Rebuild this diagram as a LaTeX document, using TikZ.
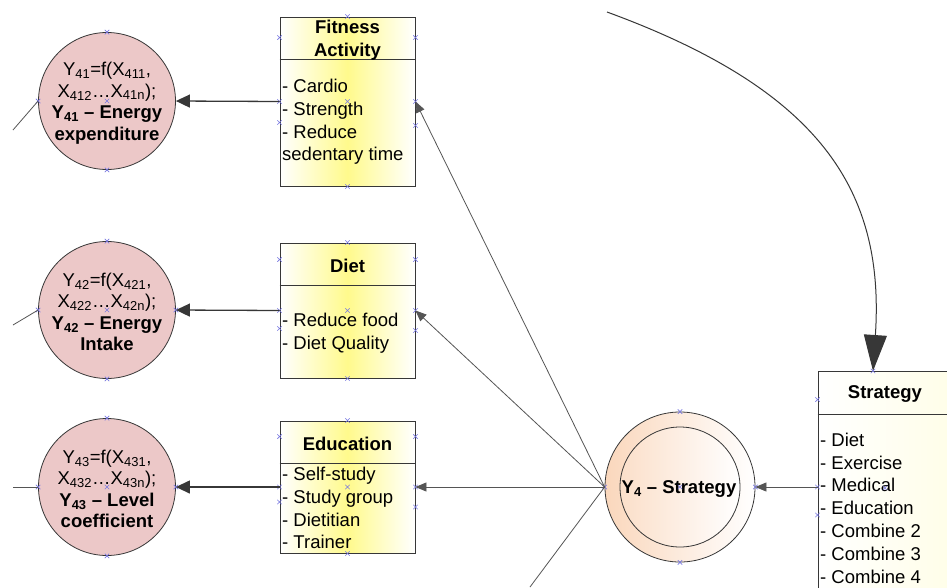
\documentclass[tikz,border=0pt]{standalone}
\usepackage{fontspec}
\setmainfont{Liberation Sans}
\usetikzlibrary{arrows.meta,calc}

\definecolor{rosefill}{RGB}{236,200,200}
\definecolor{boxyellow}{RGB}{255,250,140}
\definecolor{peach}{RGB}{250,215,188}
\definecolor{edgegray}{RGB}{55,55,55}
\definecolor{linegray}{RGB}{85,85,85}
\definecolor{cpblue}{RGB}{120,120,225}

\tikzset{
  txt/.style={font=\fontsize{18.5}{22.8}\selectfont, text=black, inner sep=0pt},
  htxt/.style={font=\fontsize{18.5}{22.8}\selectfont\bfseries, text=black, inner sep=0pt, align=center},
  ctxt/.style={font=\fontsize{18.5}{21.5}\selectfont, text=black, inner sep=0pt, align=center},
  yvar/.style={circle, draw=edgegray, line width=0.8pt, fill=rosefill,
               minimum size=137pt, inner sep=0pt},
  entbox/.style={rectangle, draw=edgegray, line width=0.9pt, inner sep=0pt,
                 left color=white, right color=white, middle color=boxyellow},
  stratbox/.style={rectangle, draw=edgegray, line width=0.9pt, inner sep=0pt,
                 left color=white, right color=boxyellow!20},
  ring/.style={circle, draw=edgegray, line width=0.8pt, inner sep=0pt,
               left color=peach, right color=white},
  inring/.style={circle, draw=edgegray, line width=0.8pt, inner sep=0pt,
               left color=peach!80, right color=white},
  divider/.style={draw=edgegray, line width=0.9pt},
  mainarrow/.style={draw=edgegray, line width=1.3pt,
                    -{Triangle[length=14pt,width=13pt]}},
  thinarrow/.style={draw=linegray, line width=0.8pt,
                    -{Triangle[length=11pt,width=9pt]}},
  thinline/.style={draw=linegray, line width=0.8pt},
  bigarrow/.style={draw=edgegray, line width=1pt,
                   -{Triangle[length=36pt,width=23pt]}},
  cpt/.pic={\draw[cpblue, line width=0.6pt] (-2.2,-2.2)--(2.2,2.2) (-2.2,2.2)--(2.2,-2.2);}
}

\begin{document}
\begin{tikzpicture}[x=1pt,y=-1pt]
  \path[use as bounding box, fill=white] (0,0) rectangle (947,587);
  \clip (0,0) rectangle (947,587);

  % ---- outcome circles on the left
  \node[yvar] (y41) at (107,101) {};
  \node[ctxt] (t41) at (107,103)
    {Y\textsubscript{41}=f(X\textsubscript{411},\\
     X\textsubscript{412}\dots X\textsubscript{41n});\\
     \textbf{Y\textsubscript{41} -- Energy}\\
     \textbf{expenditure}};

  \node[yvar] (y42) at (107,310) {};
  \node[ctxt] (t42) at (107,312)
    {Y\textsubscript{42}=f(X\textsubscript{421},\\
     X\textsubscript{422}\dots X\textsubscript{42n});\\
     \textbf{Y\textsubscript{42} -- Energy}\\
     \textbf{Intake}};

  \node[yvar] (y43) at (107,487) {};
  \node[ctxt] (t43) at (107,489)
    {Y\textsubscript{43}=f(X\textsubscript{431},\\
     X\textsubscript{432}\dots X\textsubscript{43n});\\
     \textbf{Y\textsubscript{43} -- Level}\\
     \textbf{coefficient}};

  % ---- activity boxes
  \node[entbox, minimum width=135pt, minimum height=169pt] (fit) at (347.5,101.5) {};
  \draw[divider] ($(fit.north west)+(0,43)$) -- ($(fit.north east)+(0,43)$);
  \node[htxt] (fith) at (347.5,40) {Fitness\\Activity};
  \node[txt, align=left, anchor=west] (fitc) at (282,122)
    {- Cardio\\- Strength\\- Reduce\\sedentary time};

  \node[entbox, minimum width=135pt, minimum height=135pt] (diet) at (347.5,310.5) {};
  \draw[divider] ($(diet.north west)+(0,43)$) -- ($(diet.north east)+(0,43)$);
  \node[htxt] (dieth) at (347.5,265.5) {Diet};
  \node[txt, align=left, anchor=west] (dietc) at (282,333)
    {- Reduce food\\- Diet Quality};

  \node[entbox, minimum width=135pt, minimum height=132pt] (edu) at (347.5,487) {};
  \draw[divider] ($(edu.north west)+(0,43)$) -- ($(edu.north east)+(0,43)$);
  \node[htxt] (eduh) at (347.5,443.5) {Education};
  \node[txt, align=left, anchor=west] (educ) at (282,508)
    {- Self-study\\- Study group\\- Dietitian\\- Trainer};

  % ---- strategy hub
  \node[ring, minimum size=150pt] (y4) at (680,487) {};
  \node[inring, minimum size=120pt] (y4in) at (680,487) {};
  \node[htxt] (y4t) at (679,489) {Y\textsubscript{4} -- Strategy};

  % ---- strategy list
  \node[stratbox, minimum width=135pt, minimum height=232pt] (strat) at (885.5,487) {};
  \draw[divider] ($(strat.north west)+(0,44)$) -- ($(strat.north east)+(0,44)$);
  \node[htxt] (strath) at (885,394) {Strategy};
  \node[txt, align=left, anchor=west] (stratc) at (820,508)
    {- Diet\\- Exercise\\- Medical\\- Education\\- Combine 2\\- Combine 3\\- Combine 4};

  % ---- free ends
  \coordinate (l41) at (13,130);
  \coordinate (l42) at (13,325);
  \coordinate (l43) at (13,487);
  \coordinate (ybot) at (530,587);
  \coordinate (src) at (607,12);
  \coordinate (stratin) at (873,371);

  % ---- connection points
  \foreach \n in {y41,y42,y43,y4,fit,diet,edu} {
    \pic at (\n.north) {cpt};
    \pic at (\n.south) {cpt};
    \pic at (\n.west) {cpt};
    \pic at (\n.center) {cpt};
  }
  \foreach \n in {y42,y43,y4,fit,diet,edu} {
    \pic at (\n.east) {cpt};
  }
  \pic at ($(fit.north west)+(0,21)$) {cpt};
  \pic at ($(fit.north east)+(0,21)$) {cpt};
  \pic at ($(fit.west)+(0,21)$) {cpt};
  \pic at ($(fit.east)+(0,24)$) {cpt};
  \pic at ($(diet.north west)+(0,17)$) {cpt};
  \pic at ($(diet.north east)+(0,17)$) {cpt};
  \pic at ($(diet.west)+(0,18)$) {cpt};
  \pic at ($(diet.east)+(0,20)$) {cpt};
  \pic at ($(edu.north west)+(0,16)$) {cpt};
  \pic at ($(edu.north east)+(0,16)$) {cpt};
  \pic at ($(edu.west)+(0,15)$) {cpt};
  \pic at ($(edu.east)+(0,20)$) {cpt};
  \pic at ($(strat.north west)+(0,29)$) {cpt};
  \pic at (strat.west) {cpt};
  \pic at ($(strat.west)+(0,28)$) {cpt};
  \pic at (885,488) {cpt};

  % ---- connectors (drawn over the point marks)
  \draw[mainarrow] (fit.west) -- (y41.east);
  \draw[mainarrow] (diet.west) -- (y42.east);
  \draw[mainarrow] (edu.west) -- (y43.east);

  \draw[thinline] (l41) -- (y41.west);
  \draw[thinline] (l42) -- (y42.west);
  \draw[thinline] (l43) -- (y43.west);

  \draw[thinarrow] (y4.west) -- (fit.east);
  \draw[thinarrow] (y4.west) -- (diet.east);
  \draw[thinarrow] (y4.west) -- (edu.east);
  \draw[thinline] (y4.west) -- (ybot);
  \draw[thinarrow] (strat.west) -- (y4.east);

  \draw[bigarrow] (src) .. controls (820,90) and (885,190) .. (stratin);
  \pic at (stratin) {cpt};
\end{tikzpicture}
\end{document}
